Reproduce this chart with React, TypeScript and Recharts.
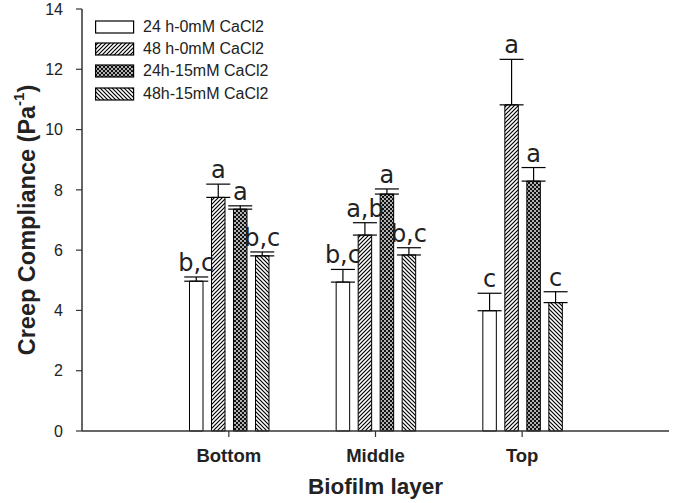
import React from "react";
import {
  BarChart,
  Bar,
  XAxis,
  YAxis,
  ErrorBar,
  LabelList,
} from "recharts";

const layers = ["Bottom", "Middle", "Top"];
const seriesNames = [
  "24 h-0mM CaCl2",
  "48 h-0mM CaCl2",
  "24h-15mM CaCl2",
  "48h-15mM CaCl2",
];

const mean24h0 = [4.97, 4.94, 3.99];
const err24h0 = [0.14, 0.42, 0.58];
const mean48h0 = [7.75, 6.5, 10.82];
const err48h0 = [0.44, 0.41, 1.51];
const mean24h15 = [7.36, 7.86, 8.29];
const err24h15 = [0.11, 0.17, 0.45];
const mean48h15 = [5.81, 5.84, 4.26];
const err48h15 = [0.13, 0.24, 0.36];

const sig24h0 = ["b,c", "b,c", "c"];
const sig48h0 = ["a", "a,b", "a"];
const sig24h15 = ["a", "a", "a"];
const sig48h15 = ["b,c", "b,c", "c"];

const yTicks = [0, 2, 4, 6, 8, 10, 12, 14];
const Y_MAX = 14;

const W = 673;
const H = 503;
const MARGIN = { top: 9, right: 4, bottom: 0, left: 0 };
const Y_AXIS_W = 82;
const X_AXIS_H = 72;
const PLOT_H = H - MARGIN.top - MARGIN.bottom - X_AXIS_H;

const sans = "'Liberation Sans', Arial, sans-serif";
const ink = "#222";

const data = layers.map((name, i) => ({
  name,
  s1: mean24h0[i],
  e1: [0, err24h0[i]],
  l1: sig24h0[i],
  s2: mean48h0[i],
  e2: [0, err48h0[i]],
  l2: sig48h0[i],
  s3: mean24h15[i],
  e3: [0, err24h15[i]],
  l3: sig24h15[i],
  s4: mean48h15[i],
  e4: [0, err48h15[i]],
  l4: sig48h15[i],
}));

const fills = ["#ffffff", "url(#hatchFwd)", "url(#checker)", "url(#hatchBack)"];
const errs = [err24h0, err48h0, err24h15, err48h15];

// letters sit just above the top of each error bar
const makeSigLabel = (errArr: number[]) => (props: any) => {
  const { x, y, width, value, index } = props;
  const top = y - (errArr[index] * PLOT_H) / Y_MAX;
  return (
    <text
      x={x + width / 2}
      y={top - 6}
      textAnchor="middle"
      fontFamily="'DejaVu Sans', Verdana, sans-serif"
      fontSize={24}
      fill={ink}
    >
      {value}
    </text>
  );
};

const XTick = (props: any) => {
  const { x, y, payload } = props;
  return (
    <text
      x={x}
      y={y + 23}
      textAnchor="middle"
      fontFamily={sans}
      fontWeight="bold"
      fontSize={18.5}
      fill={ink}
    >
      {payload.value}
    </text>
  );
};

const XLabel = (props: any) => {
  const { viewBox } = props;
  return (
    <text
      x={viewBox.x + viewBox.width / 2}
      y={viewBox.y + 63}
      textAnchor="middle"
      fontFamily={sans}
      fontWeight="bold"
      fontSize={22.5}
      fill={ink}
    >
      Biofilm layer
    </text>
  );
};

const YLabel = (props: any) => {
  const { viewBox } = props;
  const cx = 27;
  const cy = viewBox.y + viewBox.height / 2;
  return (
    <text
      x={cx}
      y={cy}
      transform={`rotate(-90, ${cx}, ${cy})`}
      textAnchor="middle"
      dominantBaseline="central"
      fontFamily={sans}
      fontWeight="bold"
      fontSize={23.5}
      fill={ink}
    >
      Creep Compliance (Pa
      <tspan dy={-9} fontSize={15}>
        -1
      </tspan>
      <tspan dy={9}>)</tspan>
    </text>
  );
};

const Legend = () => (
  <div
    style={{
      position: "absolute",
      left: 95,
      top: 16,
      fontFamily: sans,
      fontSize: 16,
      color: ink,
    }}
  >
    {seriesNames.map((n, i) => (
      <div
        key={n}
        style={{ display: "flex", alignItems: "center", height: 22.2 }}
      >
        <svg width={40} height={14} style={{ display: "block" }}>
          <rect
            x={0.6}
            y={1}
            width={38}
            height={12}
            fill={fills[i]}
            stroke="#000"
            strokeWidth={1.2}
          />
        </svg>
        <span style={{ marginLeft: 8, whiteSpace: "nowrap" }}>{n}</span>
      </div>
    ))}
  </div>
);

export default function App() {
  return (
    <div
      style={{
        position: "absolute",
        left: 0,
        top: 0,
        width: W,
        height: H,
        background: "#fff",
      }}
    >
      <BarChart
        width={W}
        height={H}
        data={data}
        margin={MARGIN}
        barSize={13.5}
        barGap={8.5}
      >
        <defs>
          <pattern
            id="hatchFwd"
            patternUnits="userSpaceOnUse"
            width={4}
            height={4}
          >
            <rect width={4} height={4} fill="#fff" />
            <path
              d="M-1,1 l2,-2 M0,4 l4,-4 M3,5 l2,-2"
              stroke="#000"
              strokeWidth={1.2}
            />
          </pattern>
          <pattern
            id="hatchBack"
            patternUnits="userSpaceOnUse"
            width={4}
            height={4}
          >
            <rect width={4} height={4} fill="#fff" />
            <path
              d="M-1,3 l2,2 M0,0 l4,4 M3,-1 l2,2"
              stroke="#000"
              strokeWidth={1.2}
            />
          </pattern>
          <pattern
            id="checker"
            patternUnits="userSpaceOnUse"
            width={4}
            height={4}
          >
            <rect width={4} height={4} fill="#111" />
            <circle cx={1} cy={1} r={0.9} fill="#fff" />
            <circle cx={3} cy={3} r={0.9} fill="#fff" />
          </pattern>
        </defs>
        <XAxis
          dataKey="name"
          height={X_AXIS_H}
          padding={{ left: 73.5, right: 73.5 }}
          axisLine={{ stroke: "#333", strokeWidth: 1.5 }}
          tickLine={{ stroke: "#333", strokeWidth: 1.2 }}
          tickSize={6}
          tick={<XTick />}
          label={<XLabel />}
        />
        <XAxis
          xAxisId="top"
          dataKey="name"
          orientation="top"
          height={0}
          padding={{ left: 73.5, right: 73.5 }}
          axisLine={{ stroke: "#333", strokeWidth: 1.5 }}
          tick={false}
          tickLine={false}
        />
        <YAxis
          width={Y_AXIS_W}
          domain={[0, Y_MAX]}
          ticks={yTicks}
          interval={0}
          axisLine={{ stroke: "#333", strokeWidth: 1.5 }}
          tickLine={{ stroke: "#333", strokeWidth: 1.2 }}
          tickSize={6}
          tickMargin={13}
          tick={{ fill: ink, fontSize: 16, fontFamily: sans }}
          label={<YLabel />}
        />
        <YAxis
          yAxisId="right"
          orientation="right"
          width={0}
          domain={[0, Y_MAX]}
          axisLine={{ stroke: "#333", strokeWidth: 1.5 }}
          tick={false}
          tickLine={false}
        />
        {[1, 2, 3, 4].map((k) => (
          <Bar
            key={k}
            dataKey={`s${k}`}
            fill={fills[k - 1]}
            stroke="#000"
            strokeWidth={1}
            isAnimationActive={false}
          >
            <ErrorBar
              dataKey={`e${k}`}
              width={12}
              stroke="#000"
              strokeWidth={1.2}
              direction="y"
            />
            <LabelList dataKey={`l${k}`} content={makeSigLabel(errs[k - 1])} />
          </Bar>
        ))}
      </BarChart>
      <Legend />
    </div>
  );
}
